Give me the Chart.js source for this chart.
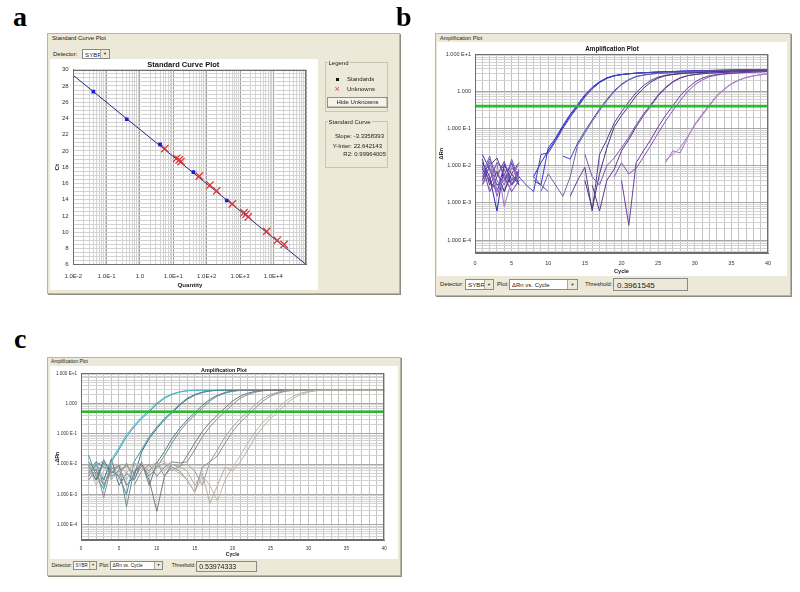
<!DOCTYPE html>
<html>
<head>
<meta charset="utf-8">
<title>qPCR standard curve and amplification plots</title>
<script src="https://cdn.jsdelivr.net/npm/chart.js@4.4.1/dist/chart.umd.min.js"></script>
<style>
html,body{margin:0;padding:0;background:#fff;}
body{width:800px;height:592px;position:relative;overflow:hidden;font-family:"Liberation Sans","DejaVu Sans",Arial,sans-serif;color:#1a1a1a;}
.pl{position:absolute;font-family:"Liberation Serif","DejaVu Serif",serif;font-weight:bold;font-size:28px;line-height:28px;color:#000;}
.frame{position:absolute;background:#ece9d8;border:1px solid #b9b5a5;box-sizing:border-box;box-shadow:1px 1px 0 #8f8c80;}
.wp{position:absolute;background:#fff;}
.t{position:absolute;white-space:nowrap;line-height:1;}
.box{position:absolute;background:#fff;border:1px solid #8a8a8a;box-sizing:border-box;white-space:nowrap;line-height:1;overflow:hidden;}
.box span{position:absolute;}
.dd{position:absolute;top:0;right:0;bottom:0;background:#ece9d8;border-left:1px solid #a8a8a8;text-align:center;color:#333;}
.grp{position:absolute;border:1px solid #c9c5b5;box-sizing:border-box;}
.btn{position:absolute;background:#f3f2ec;border:1px solid #8e8e8e;box-sizing:border-box;text-align:center;white-space:nowrap;box-shadow:inset -1px -1px 0 #c8c4b4;}
canvas{position:absolute;}
.ct{position:absolute;font-weight:bold;white-space:nowrap;line-height:1;transform:translate(-50%,-50%);color:#111;}
</style>
</head>
<body>

<!-- ================= panel a ================= -->
<div class="pl" style="left:13px;top:3px">a</div>
<div class="frame" style="left:47px;top:33px;width:353px;height:261px"></div>
<div class="t" style="left:52px;top:35px;font-size:6px">Standard Curve Plot</div>
<div class="t" style="left:53px;top:51px;font-size:6px">Detector:</div>
<div class="box" style="left:82px;top:49px;width:28px;height:10px;font-size:6.2px"><span style="left:2px;top:1.5px">SYBR</span><div class="dd" style="width:8px;font-size:4px;line-height:8px">▼</div></div>
<div class="wp" style="left:50px;top:59px;width:268px;height:231px"></div>
<canvas id="ca" width="268" height="231" style="left:50px;top:59px"></canvas>
<div class="ct" style="left:183.3px;top:65.3px;font-size:7.5px">Standard Curve Plot</div>

<div class="grp" style="left:325px;top:62px;width:63px;height:50px"></div>
<div class="t" style="left:327.5px;top:59.5px;font-size:6px;background:#ece9d8;padding:0 1px">Legend</div>
<div style="position:absolute;left:336px;top:77.5px;width:3px;height:3px;background:#111"></div>
<div class="t" style="left:347px;top:76px;font-size:6px">Standards</div>
<div class="t" style="left:334.5px;top:85px;font-size:9px;color:#e04848">×</div>
<div class="t" style="left:347px;top:86.3px;font-size:6px">Unknowns</div>
<div class="btn" style="left:327px;top:97px;width:61px;height:11px;font-size:6px;line-height:9px">Hide Unknowns</div>
<div class="grp" style="left:325px;top:121px;width:63px;height:47px"></div>
<div class="t" style="left:327.5px;top:118.5px;font-size:6px;background:#ece9d8;padding:0 1px">Standard Curve</div>
<div class="t" style="right:416px;top:133.3px;font-size:6px">Slope: -3.3358393</div>
<div class="t" style="right:418px;top:142.7px;font-size:6px">Y-Inter: 22.642143</div>
<div class="t" style="right:414px;top:151.3px;font-size:6px">R2: 0.99964005</div>

<!-- ================= panel b ================= -->
<div class="pl" style="left:396px;top:3px">b</div>
<div class="frame" style="left:435px;top:33px;width:356px;height:263px"></div>
<div class="t" style="left:440px;top:35.5px;font-size:5.5px">Amplification Plot</div>
<div class="wp" style="left:437px;top:42px;width:350px;height:234px"></div>
<canvas id="cb" width="350" height="234" style="left:437px;top:42px"></canvas>
<div class="ct" style="left:612px;top:49px;font-size:6.3px">Amplification Plot</div>
<div class="t" style="left:440px;top:281.6px;font-size:5.8px">Detector:</div>
<div class="box" style="left:465px;top:279px;width:29px;height:11px;font-size:6.2px"><span style="left:2px;top:2px">SYBR</span><div class="dd" style="width:8px;font-size:4px;line-height:9px">▼</div></div>
<div class="t" style="left:497px;top:281.6px;font-size:5.8px">Plot:</div>
<div class="box" style="left:509px;top:279px;width:69px;height:11px;font-size:6px"><span style="left:2px;top:2px">ΔRn vs. Cycle</span><div class="dd" style="width:9px;font-size:4px;line-height:9px">▼</div></div>
<div class="t" style="left:585px;top:281.6px;font-size:5.8px">Threshold:</div>
<div class="box" style="left:613px;top:278px;width:75px;height:13px;font-size:8px;background:#ece9d8"><span style="left:3px;top:2.5px">0.3961545</span></div>

<!-- ================= panel c ================= -->
<div class="pl" style="left:14px;top:325px">c</div>
<div class="frame" style="left:47px;top:357px;width:354px;height:219px"></div>
<div class="t" style="left:51px;top:359.5px;font-size:4.8px">Amplification Plot</div>
<div class="wp" style="left:50px;top:366px;width:348px;height:193px"></div>
<canvas id="cc" width="348" height="193" style="left:50px;top:366px"></canvas>
<div class="ct" style="left:224px;top:370.7px;font-size:5.4px">Amplification Plot</div>
<div class="t" style="left:51.7px;top:563.2px;font-size:5px">Detector:</div>
<div class="box" style="left:73px;top:561px;width:24px;height:9px;font-size:4.5px"><span style="left:1.5px;top:1.8px">SYBR</span><div class="dd" style="width:6px;font-size:3.5px;line-height:7px">▼</div></div>
<div class="t" style="left:99.3px;top:563.2px;font-size:5px">Plot:</div>
<div class="box" style="left:110px;top:561px;width:53px;height:9px;font-size:4.8px"><span style="left:1.5px;top:1.8px">ΔRn vs. Cycle</span><div class="dd" style="width:7px;font-size:3.5px;line-height:7px">▼</div></div>
<div class="t" style="left:171.7px;top:563.2px;font-size:5px">Threshold:</div>
<div class="box" style="left:195.7px;top:560.5px;width:61px;height:11px;font-size:7px;background:#ece9d8"><span style="left:2.5px;top:1.8px">0.53974333</span></div>

<script>
// ---------------- Panel a data (standard curve) ----------------
const aXTickValues = [0.01, 0.1, 1, 10, 100, 1000, 10000];
const aXTickLabels = ['1.0E-2', '1.0E-1', '1.0', '1.0E+1', '1.0E+2', '1.0E+3', '1.0E+4'];
const aYTicks = [6, 8, 10, 12, 14, 16, 18, 20, 22, 24, 26, 28, 30];

const stdQuantity = [0.04, 0.4, 4, 40, 400];
const stdCt = [27.3, 23.9, 20.8, 17.4, 13.9];

const unkQuantity = [5.6, 12.6, 15, 17, 60, 126, 200, 590, 1320, 1510, 1780, 6300, 13200, 21000];
const unkCt = [20.3, 19.1, 18.9, 18.7, 16.9, 15.8, 15.1, 13.5, 12.4, 12.2, 11.9, 10.1, 9.0, 8.5];

const fitQuantity = [0.01, 100000];
const fitCt = [29.31, 5.96];

// ---------------- Panels b / c shared ----------------
const cycles = [1,2,3,4,5,6,7,8,9,10,11,12,13,14,15,16,17,18,19,20,21,22,23,24,25,26,27,28,29,30,31,32,33,34,35,36,37,38,39,40];
const cycleTickLabels = [0, 5, 10, 15, 20, 25, 30, 35, 40];
const rnTickValues = [10, 1, 0.1, 0.01, 0.001, 0.0001];
const rnTickLabels = ['1.000 E+1', '1.000', '1.000 E-1', '1.000 E-2', '1.000 E-3', '1.000 E-4'];

// ---------------- Panel b data ----------------
const thresholdB = 0.3961545;
const bG1a = [0.012,0.005,0.0006,0.011,0.004,0.006,null,0.005,0.012,0.025,
  0.05,0.11,0.22,0.40,0.75,1.2,1.75,2.25,2.6,2.8,
  2.95,3.05,3.13,3.2,3.27,3.33,3.38,3.43,3.48,3.52,
  3.56,3.6,3.63,3.66,3.69,3.72,3.74,3.76,3.78,3.8];
const bG1b = [0.02,0.008,0.003,0.004,0.012,0.003,null,0.004,0.003,0.03,
  0.055,0.12,0.24,0.44,0.8,1.28,1.8,2.3,2.63,2.82,
  2.96,3.06,3.14,3.21,3.28,3.34,3.39,3.44,3.49,3.53,
  3.57,3.61,3.64,3.67,3.7,3.73,3.75,3.77,3.79,3.81];
const bG1c = [0.004,0.015,0.002,0.006,0.003,0.005,0.003,0.002,0.02,0.022,
  0.045,0.1,0.2,0.37,0.7,1.15,1.7,2.2,2.57,2.78,
  2.93,3.04,3.12,3.19,3.26,3.32,3.37,3.42,3.47,3.51,
  3.55,3.59,3.62,3.65,3.68,3.71,3.73,3.75,3.77,3.79];
const bG2a = [0.006,0.018,0.004,0.002,0.009,0.005,null,null,0.002,0.006,
  0.003,0.0015,0.005,0.035,0.075,0.155,0.30,0.55,0.97,1.48,
  2.0,2.45,2.7,2.88,3.0,3.09,3.17,3.24,3.3,3.36,
  3.41,3.46,3.5,3.54,3.58,3.62,3.65,3.68,3.7,3.73];
const bG2b = [0.009,0.004,0.012,0.008,0.003,0.007,null,0.005,0.003,0.002,
  null,0.018,0.015,0.04,0.085,0.17,0.33,0.6,1.03,1.55,
  2.06,2.5,2.73,2.9,3.02,3.1,3.18,3.25,3.31,3.37,
  3.42,3.47,3.51,3.55,3.59,3.63,3.66,3.69,3.71,3.74];
const bG3a = [0.015,0.003,0.007,0.002,0.006,0.012,null,null,null,null,
  null,null,null,null,0.004,0.0007,0.006,0.03,0.11,0.22,
  0.40,0.75,1.2,1.75,2.25,2.6,2.8,2.95,3.05,3.13,
  3.2,3.27,3.33,3.38,3.43,3.48,3.52,3.56,3.6,3.63];
const bG3b = [0.003,0.01,0.016,0.005,0.002,0.004,null,null,null,null,
  null,null,0.0015,0.004,0.009,0.0006,0.02,0.05,0.14,0.28,
  0.52,0.92,1.42,1.95,2.4,2.68,2.86,2.98,3.08,3.16,
  3.23,3.29,3.35,3.4,3.45,3.49,3.53,3.57,3.61,3.64];
const bG4a = [0.008,0.004,0.002,0.01,0.006,0.003,null,null,null,null,
  null,null,null,null,null,0.003,0.0006,0.004,0.008,0.025,
  0.05,0.11,0.22,0.4,0.75,1.2,1.75,2.25,2.6,2.8,
  2.95,3.05,3.13,3.2,3.27,3.33,3.38,3.43,3.48,3.52];
const bG4b = [0.005,0.012,0.006,0.003,0.015,0.004,null,null,null,null,
  null,null,null,null,0.02,0.005,0.003,0.01,0.016,0.03,
  0.058,0.125,0.245,0.44,0.8,1.28,1.82,2.3,2.63,2.82,
  2.96,3.06,3.14,3.21,3.28,3.34,3.39,3.44,3.49,3.53];
const bG5a = [0.01,0.002,0.005,0.013,0.003,0.008,null,null,null,null,
  null,null,null,null,null,null,null,null,null,0.004,
  0.00025,0.012,0.025,0.05,0.11,0.22,0.4,0.75,1.2,1.75,
  2.25,2.6,2.8,2.95,3.05,3.13,3.2,3.27,3.33,3.38];
const bG5b = [0.004,0.009,0.0015,0.006,0.011,0.005,null,null,null,null,
  null,null,null,null,null,null,null,null,0.005,0.012,
  0.006,0.0085,0.017,0.035,0.075,0.155,0.3,0.55,0.97,1.48,
  2.0,2.45,2.7,2.88,3.0,3.09,3.17,3.24,3.3,3.36];
const bG6a = [0.007,0.014,0.002,0.005,0.009,0.004,null,null,null,null,
  null,null,null,null,null,null,null,null,null,null,
  null,null,null,null,null,0.014,0.02,0.03,0.06,0.12,
  0.22,0.4,0.72,1.1,1.55,1.95,2.3,2.55,2.75,2.9];
const bG6b = [0.003,0.006,0.011,0.0008,0.004,0.012,null,null,null,null,
  null,null,null,null,null,null,null,null,null,null,
  null,null,null,null,null,0.012,0.025,0.022,0.055,0.13,
  0.24,0.43,0.76,1.15,1.6,2.0,2.35,2.6,2.8,2.95];

// ---------------- Panel c data ----------------
const thresholdC = 0.53974333;
const cG1a = [0.02,0.004,0.0015,0.012,0.03,0.08,0.17,0.32,0.54,0.95,
  1.5,2.0,2.4,2.65,2.75,2.75,2.75,2.75,2.75,2.75,
  2.75,2.75,2.75,2.75,2.75,2.75,2.75,2.75,2.75,2.75,
  2.75,2.75,2.75,2.75,2.75,2.75,2.75,2.75,2.75,2.75];
const cG1b = [0.006,0.012,0.003,0.014,0.035,0.095,0.19,0.36,0.6,1.05,
  1.6,2.08,2.45,2.68,2.75,2.75,2.75,2.75,2.75,2.75,
  2.75,2.75,2.75,2.75,2.75,2.75,2.75,2.75,2.75,2.75,
  2.75,2.75,2.75,2.75,2.75,2.75,2.75,2.75,2.75,2.75];
const cG2a = [0.005,0.012,0.008,0.006,0.004,0.001,0.012,0.03,0.08,0.17,
  0.32,0.54,0.95,1.5,2.0,2.4,2.65,2.75,2.75,2.75,
  2.75,2.75,2.75,2.75,2.75,2.75,2.75,2.75,2.75,2.75,
  2.75,2.75,2.75,2.75,2.75,2.75,2.75,2.75,2.75,2.75];
const cG2b = [0.009,0.003,0.014,0.005,0.009,0.002,0.004,0.026,0.07,0.15,
  0.29,0.5,0.87,1.4,1.9,2.33,2.62,2.74,2.75,2.75,
  2.75,2.75,2.75,2.75,2.75,2.75,2.75,2.75,2.75,2.75,
  2.75,2.75,2.75,2.75,2.75,2.75,2.75,2.75,2.75,2.75];
const cG3a = [0.004,0.01,0.002,0.007,0.009,0.0004,0.006,0.01,0.004,0.008,
  0.019,0.05,0.12,0.24,0.42,0.72,1.22,1.77,2.22,2.55,
  2.72,2.75,2.75,2.75,2.75,2.75,2.75,2.75,2.75,2.75,
  2.75,2.75,2.75,2.75,2.75,2.75,2.75,2.75,2.75,2.75];
const cG3b = [0.012,0.006,0.003,0.015,0.002,0.005,0.003,0.012,0.002,0.011,
  0.026,0.07,0.15,0.29,0.5,0.87,1.4,1.9,2.33,2.62,
  2.74,2.75,2.75,2.75,2.75,2.75,2.75,2.75,2.75,2.75,
  2.75,2.75,2.75,2.75,2.75,2.75,2.75,2.75,2.75,2.75];
const cG4a = [0.008,0.003,0.011,0.004,0.006,0.009,0.005,0.01,0.003,0.00028,
  0.004,0.01,0.008,0.019,0.05,0.12,0.24,0.42,0.72,1.22,
  1.77,2.22,2.55,2.72,2.75,2.75,2.75,2.75,2.75,2.75,
  2.75,2.75,2.75,2.75,2.75,2.75,2.75,2.75,2.75,2.75];
const cG4b = [0.003,0.007,0.0008,0.009,null,null,0.002,0.006,0.01,0.004,
  0.008,0.012,0.011,0.012,0.03,0.08,0.17,0.32,0.54,0.95,
  1.5,2.0,2.4,2.65,2.75,2.75,2.75,2.75,2.75,2.75,
  2.75,2.75,2.75,2.75,2.75,2.75,2.75,2.75,2.75,2.75];
const cG5a = [0.01,0.005,0.002,0.008,0.004,0.011,0.003,0.009,0.006,0.012,
  0.004,0.008,0.006,0.003,0.0012,0.008,0.012,0.019,0.05,0.12,
  0.24,0.42,0.72,1.22,1.77,2.22,2.55,2.72,2.75,2.75,
  2.75,2.75,2.75,2.75,2.75,2.75,2.75,2.75,2.75,2.75];
const cG5b = [0.004,0.009,0.013,0.003,0.007,0.002,null,null,null,0.008,
  0.011,0.006,0.009,0.01,0.006,0.002,0.012,0.03,0.08,0.17,
  0.32,0.54,0.95,1.5,2.0,2.4,2.65,2.75,2.75,2.75,
  2.75,2.75,2.75,2.75,2.75,2.75,2.75,2.75,2.75,2.75];
const cG6a = [0.006,0.011,null,null,0.01,0.005,0.012,0.007,0.009,0.011,
  0.006,0.01,0.008,0.006,0.002,0.005,0.0005,0.002,0.008,0.006,
  0.012,0.03,0.08,0.17,0.32,0.54,0.95,1.5,2.0,2.4,
  2.65,2.75,2.75,2.75,2.75,2.75,2.75,2.75,2.75,2.75];
const cG6b = [0.009,0.002,0.006,0.012,0.007,0.003,0.009,0.011,0.005,0.01,
  0.013,0.007,0.005,0.003,0.0012,0.004,0.002,0.0006,0.003,0.008,
  0.019,0.05,0.12,0.24,0.42,0.72,1.22,1.77,2.22,2.55,
  2.72,2.75,2.75,2.75,2.75,2.75,2.75,2.75,2.75,2.75];

// ---------------- helpers ----------------
Chart.defaults.font.family = '"Liberation Sans", Arial, sans-serif';
Chart.defaults.color = '#333';

function pts(xs, ys) { return xs.map((x, i) => ({ x: x, y: ys[i] })); }
function logGrid(min, max) {
  const out = [];
  for (let e = Math.floor(Math.log10(min)); e <= Math.ceil(Math.log10(max)); e++) {
    for (let m = 1; m <= 9; m++) {
      const v = m * Math.pow(10, e);
      if (v >= min * 0.9999 && v <= max * 1.0001) out.push({ value: v });
    }
  }
  return out;
}
function isDecade(v) { const l = Math.log10(v); return Math.abs(l - Math.round(l)) < 1e-6; }
function labelFrom(vals, labels) {
  return function (v) {
    for (let i = 0; i < vals.length; i++) if (Math.abs(v / vals[i] - 1) < 1e-6) return labels[i];
    return '';
  };
}
function linGrid(min, max, step) { const out = []; for (let v = min; v <= max + 1e-9; v += step) out.push({ value: Math.round(v * 100) / 100 }); return out; }

const plotBox = {
  id: 'plotBox',
  afterDatasetsDraw(chart) {
    const { ctx, chartArea: a } = chart;
    ctx.save();
    ctx.strokeStyle = '#6e6e6e';
    ctx.lineWidth = 1;
    ctx.strokeRect(Math.round(a.left) + 0.5, Math.round(a.top) + 0.5, Math.round(a.right - a.left) - 1, Math.round(a.bottom - a.top) - 1);
    ctx.restore();
  }
};
Chart.register(plotBox);

const baseOpts = {
  responsive: false, animation: false, devicePixelRatio: 1,
  plugins: { legend: { display: false }, tooltip: { enabled: false }, title: { display: false } },
  elements: { point: { radius: 0 }, line: { borderWidth: 1, tension: 0 } }
};

// ---------------- Chart a ----------------
new Chart(document.getElementById('ca'), {
  type: 'scatter',
  data: {
    datasets: [
      { type: 'scatter', data: pts(stdQuantity, stdCt), pointStyle: 'rect', pointRadius: 2.6, backgroundColor: '#1b1bd2', borderColor: '#1b1bd2', borderWidth: 0, order: 1 },
      { type: 'scatter', data: pts(unkQuantity, unkCt), pointStyle: 'crossRot', pointRadius: 5.2, borderColor: '#df3636', borderWidth: 1.3, order: 2 },
      { type: 'line', data: pts(fitQuantity, fitCt), borderColor: '#2b2b78', borderWidth: 1, pointRadius: 0, order: 3 }
    ]
  },
  options: Object.assign({}, baseOpts, {
    layout: { padding: { left: 0, right: 11.3, top: 10.7, bottom: 0 } },
    scales: {
      x: {
        type: 'logarithmic', min: 0.01, max: 100000,
        afterBuildTicks: s => { s.ticks = logGrid(0.01, 100000); },
        afterFit: s => { s.height = 25.3; },
        ticks: { autoSkip: false, maxRotation: 0, minRotation: 0, padding: 8, color: '#333', font: { size: 6 }, callback: labelFrom(aXTickValues, aXTickLabels) },
        grid: { drawTicks: false, color: c => isDecade(c.tick.value) ? '#a3a3a3' : '#d4d4d4' },
        border: { color: '#6e6e6e' },
        title: { display: true, text: 'Quantity', color: '#222', font: { size: 6.2, weight: 'bold', lineHeight: 1 }, padding: { top: 0, bottom: 1.2 } }
      },
      y: {
        type: 'linear', min: 6, max: 30,
        afterBuildTicks: s => { s.ticks = linGrid(6, 30, 0.5); },
        afterFit: s => { s.width = 23.3; },
        ticks: { autoSkip: false, padding: 4.6, color: '#333', font: { size: 6 }, callback: v => aYTicks.includes(v) ? String(v) : '' },
        grid: { drawTicks: false, color: '#d2d2d2' },
        border: { color: '#6e6e6e' },
        title: { display: true, text: 'Ct', color: '#222', font: { size: 6.2, weight: 'bold', lineHeight: 1 }, padding: { top: 4.2, bottom: 0 } }
      }
    }
  })
});

// ---------------- amplification chart builder ----------------
function ampChart(id, series, thr, yMin, geo) {
  const ds = [{ data: [{ x: 0, y: thr }, { x: 40, y: thr }], borderColor: '#2cb92c', borderWidth: geo.thrW, pointRadius: 0, order: 0 }];
  series.forEach(s => ds.push({ data: pts(cycles, s.v), borderColor: s.c, borderWidth: 1, pointRadius: 0, spanGaps: false, order: 1 }));
  return new Chart(document.getElementById(id), {
    type: 'line',
    data: { datasets: ds },
    options: Object.assign({}, baseOpts, {
      layout: { padding: { left: 0, right: geo.right, top: geo.top, bottom: 0 } },
      scales: {
        x: {
          type: 'linear', min: 0, max: 40,
          afterBuildTicks: s => { s.ticks = linGrid(0, 40, 1); },
          afterFit: s => { s.height = geo.xh; },
          ticks: { autoSkip: false, maxRotation: 0, minRotation: 0, padding: geo.xpad, color: '#333', font: { size: geo.fs }, callback: v => cycleTickLabels.includes(v) ? String(v) : '' },
          grid: { drawTicks: false, color: '#c3c3c3' },
          border: { color: '#6e6e6e' },
          title: { display: true, text: 'Cycle', color: '#222', font: { size: geo.tfs, weight: 'bold', lineHeight: 1 }, padding: { top: 0, bottom: geo.xtpad } }
        },
        y: {
          type: 'logarithmic', min: yMin, max: 10,
          afterBuildTicks: s => { s.ticks = logGrid(yMin, 10); },
          afterFit: s => { s.width = geo.yw; },
          ticks: { autoSkip: false, padding: 4, color: '#333', font: { size: geo.fs }, callback: labelFrom(rnTickValues, rnTickLabels) },
          grid: { drawTicks: false, color: c => isDecade(c.tick.value) ? '#a8a8a8' : '#d3d3d3' },
          border: { color: '#6e6e6e' },
          title: { display: true, text: 'ΔRn', color: '#222', font: { size: geo.tfs, weight: 'bold', lineHeight: 1 }, padding: { top: geo.ytpad, bottom: 0 } }
        }
      }
    })
  });
}

ampChart('cb', [
  { v: bG6a, c: '#b484cc' }, { v: bG6b, c: '#a070c0' },
  { v: bG5a, c: '#6e3ea0' }, { v: bG5b, c: '#8a56b4' },
  { v: bG4a, c: '#5a3a8c' }, { v: bG4b, c: '#7a52ac' },
  { v: bG3a, c: '#453878' }, { v: bG3b, c: '#5c3e98' },
  { v: bG2a, c: '#6a6aa6' }, { v: bG2b, c: '#4646b8' },
  { v: bG1c, c: '#4848b4' }, { v: bG1a, c: '#2626c4' }, { v: bG1b, c: '#3434d8' }
], thresholdB, 4.4e-5, { right: 19, top: 12, xh: 22.7, yw: 38, xpad: 7, fs: 5.5, tfs: 5.6, xtpad: 1.5, ytpad: 1.2, thrW: 2.6 });

ampChart('cc', [
  { v: cG6a, c: '#b6afa4' }, { v: cG6b, c: '#c4b6aa' },
  { v: cG5a, c: '#929292' }, { v: cG5b, c: '#a2a2a2' },
  { v: cG4a, c: '#7a7a7a' }, { v: cG4b, c: '#8a8a8a' },
  { v: cG3a, c: '#6c8c94' }, { v: cG3b, c: '#587c86' },
  { v: cG2a, c: '#4b8e9c' }, { v: cG2b, c: '#3a7888' },
  { v: cG1b, c: '#5ab8c8' }, { v: cG1a, c: '#35a0b4' }
], thresholdC, 3e-5, { right: 13.7, top: 7.3, xh: 18.3, yw: 31, xpad: 5.3, fs: 4.6, tfs: 5.1, xtpad: 2.2, ytpad: 4.6, thrW: 2.3 });

// sanity check on series lengths
const allSeries = { bG1a, bG1b, bG1c, bG2a, bG2b, bG3a, bG3b, bG4a, bG4b, bG5a, bG5b, bG6a, bG6b, cG1a, cG1b, cG2a, cG2b, cG3a, cG3b, cG4a, cG4b, cG5a, cG5b, cG6a, cG6b };
const bad = Object.keys(allSeries).filter(k => allSeries[k].length !== cycles.length);
if (bad.length) throw new Error('length mismatch: ' + bad.map(k => k + '=' + allSeries[k].length).join(', '));
</script>
</body>
</html>
